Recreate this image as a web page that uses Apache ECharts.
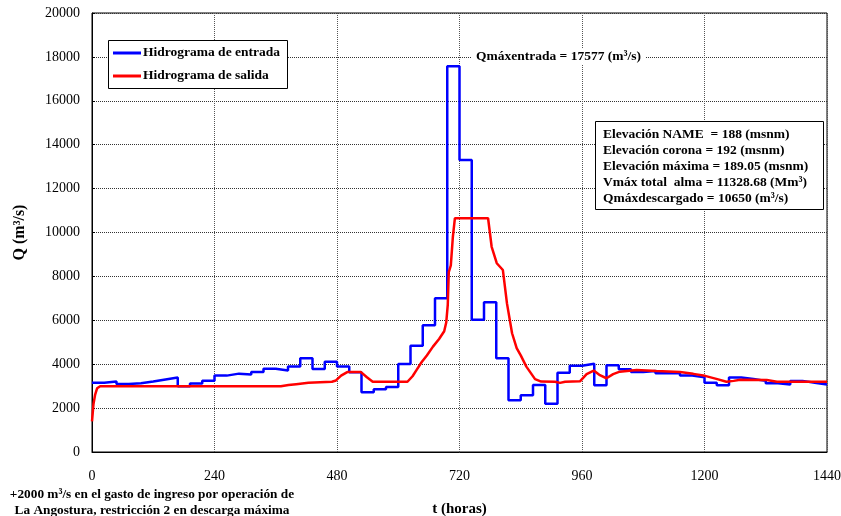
<!DOCTYPE html>
<html>
<head>
<meta charset="utf-8">
<script src="https://cdn.jsdelivr.net/npm/echarts@6/dist/echarts.min.js"></script>
<style>html,body{margin:0;padding:0;background:#fff}#c{width:841px;height:516px}</style>
</head>
<body>
<div id="c"></div>
<script>
// Inflow hydrograph: daily (24 h) step values, day 0 .. day 59
const inflowStepHours = 24;
const inflowValues = [
  3150, 3210, 3100, 3130, 3210, 3300, 3390, 3000, 3120, 3250,
  3480, 3570, 3530, 3650, 3790, 3710, 3890, 4270, 3780, 4110,
  3890, 3630, 2720, 2860, 2960, 4010, 4840, 5780, 7010, 17577,
  13300, 6020, 6820, 4270, 2360, 2580, 3050, 2200, 3610, 3930,
  4020, 3040, 3950, 3770, 3650, 3690, 3590, 3590, 3480, 3400,
  3160, 3040, 3390, 3330, 3240, 3130, 3080, 3240, 3160, 3080
];
// Outflow hydrograph: time (h) and discharge (m3/s)
const outflowT = [0, 3, 6, 10, 16, 370, 385, 400, 424, 470, 478, 488, 500, 527, 538, 550, 618, 628, 636, 646, 656, 668, 680, 690, 694, 697, 699, 703, 707, 711, 776, 783, 793, 805, 813, 823, 832, 840, 851, 868, 880, 907, 917, 927, 956, 969, 983, 995, 1008, 1021, 1034, 1067, 1106, 1152, 1178, 1201, 1225, 1243, 1257, 1270, 1322, 1342, 1440];
const outflowQ = [1400, 2200, 2600, 2900, 3000, 3000, 3050, 3090, 3150, 3200, 3260, 3480, 3640, 3640, 3420, 3200, 3200, 3450, 3740, 4100, 4400, 4800, 5150, 5500, 5900, 6700, 8200, 8500, 9800, 10650, 10650, 9350, 8600, 8290, 6770, 5410, 4730, 4400, 3890, 3320, 3210, 3200, 3150, 3200, 3220, 3550, 3710, 3500, 3360, 3550, 3660, 3740, 3690, 3640, 3560, 3470, 3320, 3200, 3240, 3290, 3280, 3200, 3200];
const xTicks = {min: 0, max: 1440, interval: 240};
const yTicks = {min: 0, max: 20000, interval: 2000};
const seriesNames = ['Hidrograma de entrada', 'Hidrograma de salida'];
const statsLines = [
  'Elevación NAME  = 188 (msnm)',
  'Elevación corona = 192 (msnm)',
  'Elevación máxima = 189.05 (msnm)',
  'Vmáx total  alma = 11328.68 (Mm³)',
  'Qmáxdescargado = 10650 (m³/s)'
];
const peakNote = 'Qmáxentrada = 17577 (m³/s)';
const footNote = ['+2000 m³/s en el gasto de ingreso por operación de', 'La Angostura, restricción 2 en descarga máxima'];

// explicit daily steps (each day's value held over its 24 h)
const inflowData = [];
inflowValues.forEach((v, i) => {
  inflowData.push([i * inflowStepHours, v]);
  inflowData.push([(i + 1) * inflowStepHours, v]);
});
const outflowData = outflowT.map((t, i) => [t, outflowQ[i]]);

const serif = '"Liberation Serif", "DejaVu Serif", serif';
const chart = echarts.init(document.getElementById('c'), null, {renderer: 'canvas'});

const graphics = [
  {type: 'rect', left: 108, top: 40, z: 3, shape: {width: 179, height: 48}, style: {fill: '#fff', stroke: '#000', lineWidth: 1}},
  {type: 'rect', left: 595, top: 121, z: 3, shape: {width: 228, height: 88}, style: {fill: '#fff', stroke: '#000', lineWidth: 1}},
  {type: 'text', left: 472, top: 49, z: 3, style: {text: peakNote, font: 'bold 13.5px ' + serif, fill: '#000', backgroundColor: '#fff', padding: [1, 4]}},
  {type: 'text', x: 152, y: 495, z: 3, style: {text: footNote[0], font: 'bold 13.3px ' + serif, fill: '#000', align: 'center', verticalAlign: 'middle'}},
  {type: 'text', x: 152, y: 511, z: 3, style: {text: footNote[1], font: 'bold 13.3px ' + serif, fill: '#000', align: 'center', verticalAlign: 'middle'}}
];
statsLines.forEach((s, i) => {
  graphics.push({type: 'text', x: 603, y: 134.5 + i * 15.9, z: 4, style: {text: s, font: 'bold 13.5px ' + serif, fill: '#000', verticalAlign: 'middle'}});
});

chart.setOption({
  animation: false,
  backgroundColor: '#fff',
  grid: {left: 92, right: 14, top: 13, bottom: 64, show: true, borderColor: '#000', borderWidth: 1, backgroundColor: 'transparent',
         containLabel: false, outerBoundsMode: 'none'},
  legend: {
    orient: 'vertical', left: 108, top: 41, z: 5,
    icon: 'rect', itemWidth: 28, itemHeight: 3, itemGap: 9,
    textStyle: {fontFamily: serif, fontWeight: 'bold', fontSize: 13.5, color: '#000', padding: [0, 0, 0, -3]},
    data: seriesNames
  },
  xAxis: {
    type: 'value', min: xTicks.min, max: xTicks.max, interval: xTicks.interval,
    name: 't (horas)', nameLocation: 'middle', nameGap: 50,
    nameTextStyle: {fontFamily: serif, fontWeight: 'bold', fontSize: 15, color: '#000'},
    axisLine: {show: true, lineStyle: {color: '#000', width: 1}},
    axisTick: {show: false},
    axisLabel: {margin: 17, fontFamily: serif, fontSize: 14, color: '#000', formatter: v => String(v)},
    splitLine: {show: true, lineStyle: {color: '#555', type: 'dotted', width: 1}}
  },
  yAxis: {
    type: 'value', min: yTicks.min, max: yTicks.max, interval: yTicks.interval,
    name: 'Q (m³/s)', nameLocation: 'middle', nameGap: 64, nameRotate: 90,
    nameTextStyle: {fontFamily: serif, fontWeight: 'bold', fontSize: 16, color: '#000'},
    axisLine: {show: true, lineStyle: {color: '#000', width: 1}},
    axisTick: {show: true, inside: true, length: 3, lineStyle: {color: '#000'}},
    axisLabel: {margin: 12, fontFamily: serif, fontSize: 14, color: '#000', formatter: v => String(v)},
    splitLine: {show: true, lineStyle: {color: '#333', type: 'dotted', width: 1}}
  },
  series: [
    {name: seriesNames[0], type: 'line', data: inflowData, showSymbol: false, symbol: 'none', z: 2, sampling: null,
     lineStyle: {color: '#0000ff', width: 2.5}, itemStyle: {color: '#0000ff'}},
    {name: seriesNames[1], type: 'line', data: outflowData, showSymbol: false, symbol: 'none', z: 2,
     lineStyle: {color: '#ff0000', width: 2.5}, itemStyle: {color: '#ff0000'}}
  ],
  graphic: graphics
});
</script>
</body>
</html>
